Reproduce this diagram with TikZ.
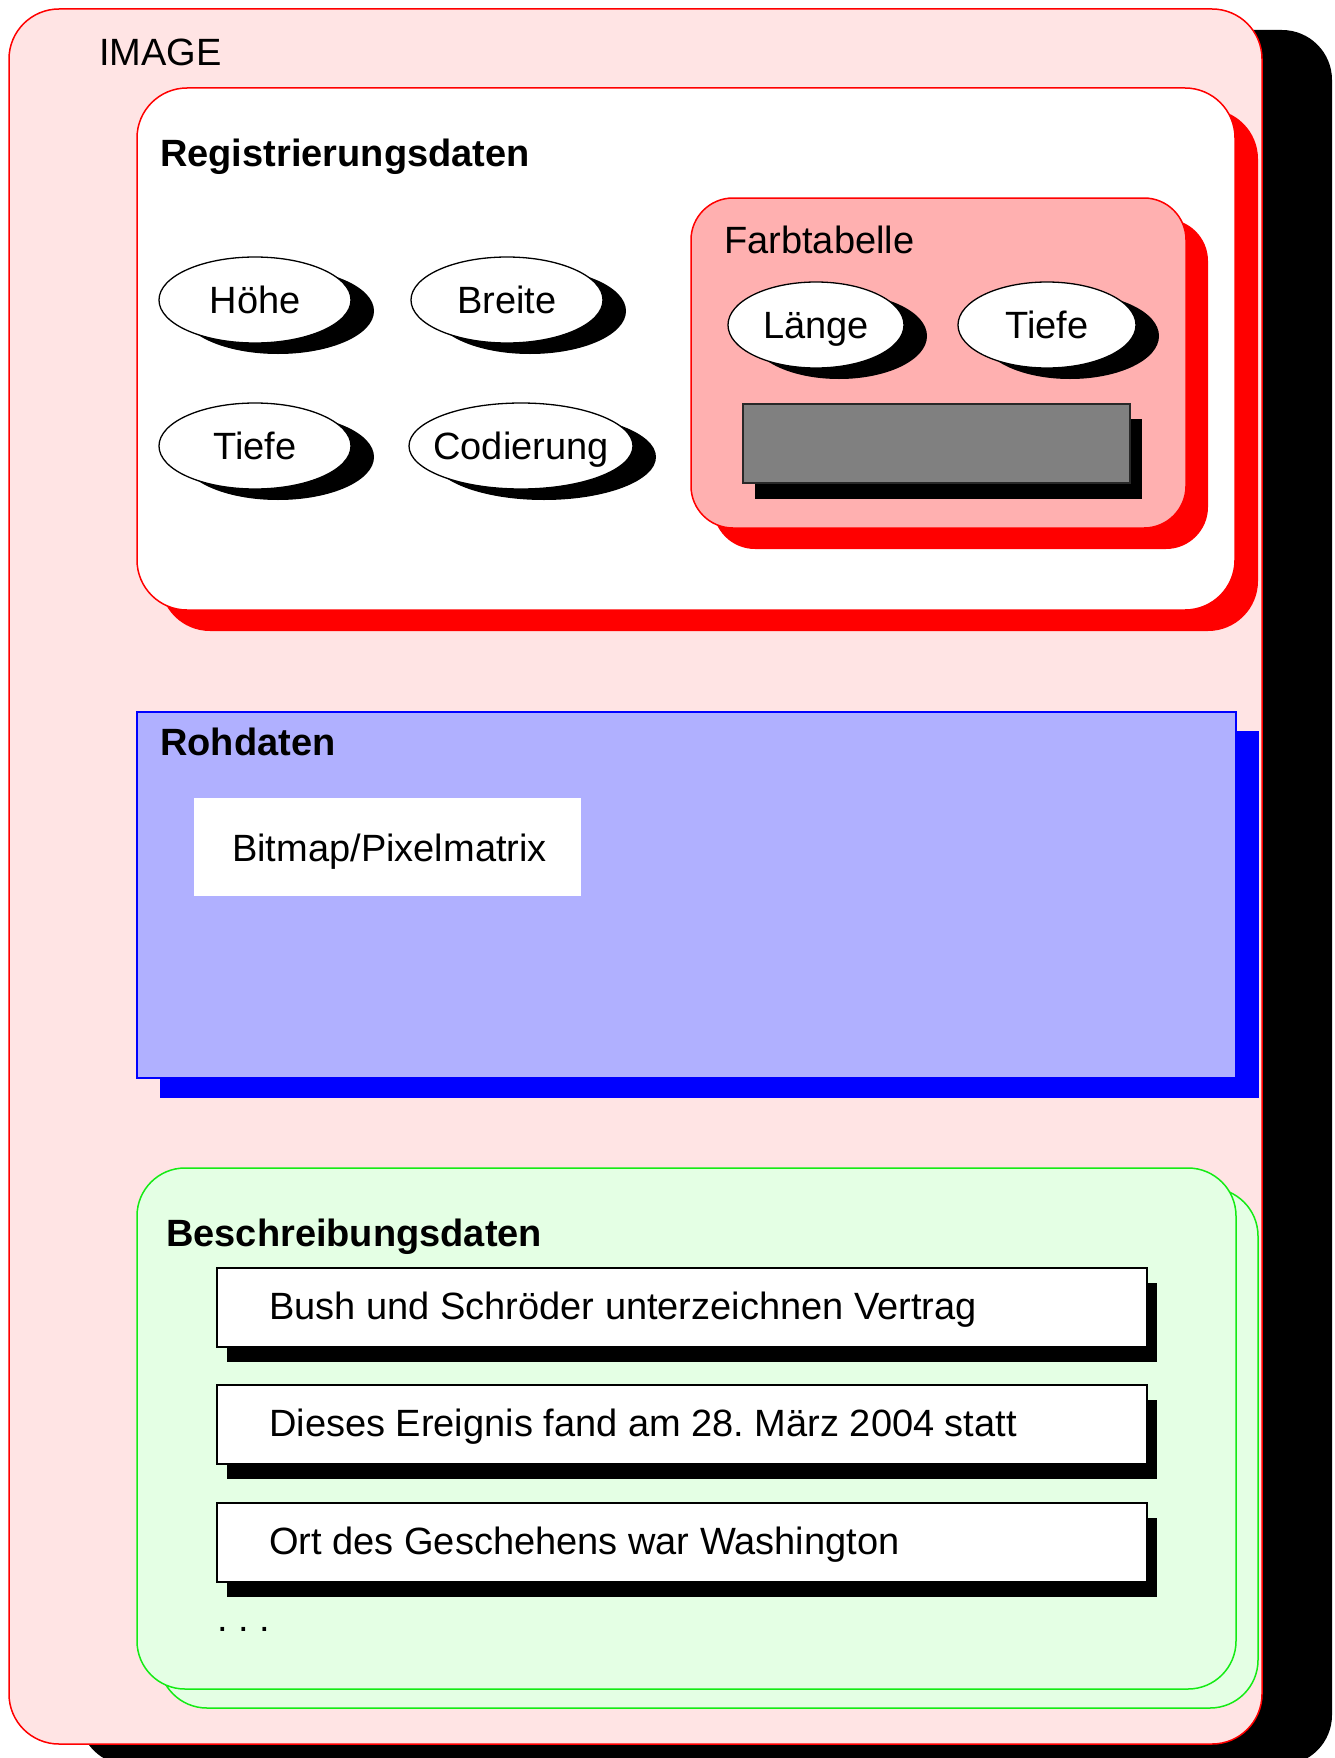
\documentclass[tikz,border=0pt]{standalone}
\usepackage{fontspec}
\setmainfont{Liberation Sans}
\frenchspacing
\definecolor{pinkbg}{RGB}{255,228,228}
\definecolor{farbbg}{RGB}{255,176,176}
\definecolor{rohbg}{RGB}{176,176,255}
\definecolor{greenbg}{RGB}{228,255,228}
\definecolor{greenline}{RGB}{20,235,20}
\definecolor{grayfill}{RGB}{128,128,128}
\definecolor{grayline}{RGB}{40,40,40}
\newcommand{\ovalnode}[5]{%
  \fill[black] (#2+23,#3+11) ellipse [x radius=#4, y radius=43];
  \draw[oval] (#2,#3) ellipse [x radius=#4, y radius=43];
  \node[ctr] (#1) at (#2,#3+13) {#5};}
\newcommand{\textbox}[3]{%
  \fill[black] (227,#2+15) rectangle (1157,#2+94);
  \draw[fill=white,draw=black,line width=1.3pt] (217,#2) rectangle (1147,#2+79);
  \node[lbl] (#1) at (269,#2+51) {#3};}
\begin{document}
\begin{tikzpicture}[x=1pt,y=-1pt,
  font=\fontsize{38}{46}\selectfont\frenchspacing,
  lbl/.style={anchor=base west,inner sep=0pt},
  hdr/.style={anchor=base west,inner sep=0pt,font=\fontsize{38}{46}\selectfont\bfseries},
  ctr/.style={anchor=base,inner sep=0pt},
  oval/.style={draw=black,fill=white,line width=1.3pt},
  frame/.style={line width=1.5pt},
]
\useasboundingbox (0,0) rectangle (1335,1758);
% outer IMAGE box
\fill[black,rounded corners=50pt] (79,30) rectangle (1332,1765);
\draw[frame,red,fill=pinkbg,rounded corners=50pt] (9,9) rectangle (1262,1744);
\node[lbl] (image) at (99,66) {IMAGE};
% Registrierungsdaten
\fill[red,rounded corners=50pt] (160,109) rectangle (1258,631);
\draw[frame,red,fill=white,rounded corners=50pt] (137,88) rectangle (1235,610);
\node[hdr] (reg) at (160,166) {Registrierungsdaten};
\ovalnode{hoehe}{255}{300}{96}{Höhe}
\ovalnode{breite}{507}{300}{96}{Breite}
\ovalnode{tiefeA}{255}{446}{96}{Tiefe}
\ovalnode{codierung}{521}{446}{112}{Codierung}
% Farbtabelle
\fill[red,rounded corners=42pt] (713,219) rectangle (1208,549);
\draw[frame,red,fill=farbbg,rounded corners=42pt] (691,198) rectangle (1186,528);
\node[lbl] (farb) at (724,253) {Farbtabelle};
\ovalnode{laenge}{816}{325}{88}{Länge}
\ovalnode{tiefeB}{1047}{325}{89}{Tiefe}
\fill[black] (755,419) rectangle (1142,499);
\draw[fill=grayfill,draw=grayline,line width=1.3pt] (743,404) rectangle (1130,483);
% Rohdaten
\fill[blue] (160,731) rectangle (1259,1098);
\draw[blue,fill=rohbg,line width=1.3pt] (137,712) rectangle (1236,1078);
\node[hdr] (roh) at (160,755) {Rohdaten};
\fill[white] (194,798) rectangle (581,896);
\node[lbl] (bitmap) at (232,861) {Bitmap/Pixelmatrix};
% Beschreibungsdaten
\draw[frame,greenline,fill=greenbg,rounded corners=48pt] (159,1188) rectangle (1258,1708);
\draw[frame,greenline,fill=greenbg,rounded corners=48pt] (137,1168) rectangle (1236,1689);
\node[hdr] (besch) at (166,1246) {Beschreibungsdaten};
\textbox{t1}{1268}{Bush und Schröder unterzeichnen Vertrag}
\textbox{t2}{1385}{Dieses Ereignis fand am 28. März 2004 statt}
\textbox{t3}{1503}{Ort des Geschehens war Washington}
\node[lbl] (dots) at (217,1631) {. . .};
\end{tikzpicture}
\end{document}
